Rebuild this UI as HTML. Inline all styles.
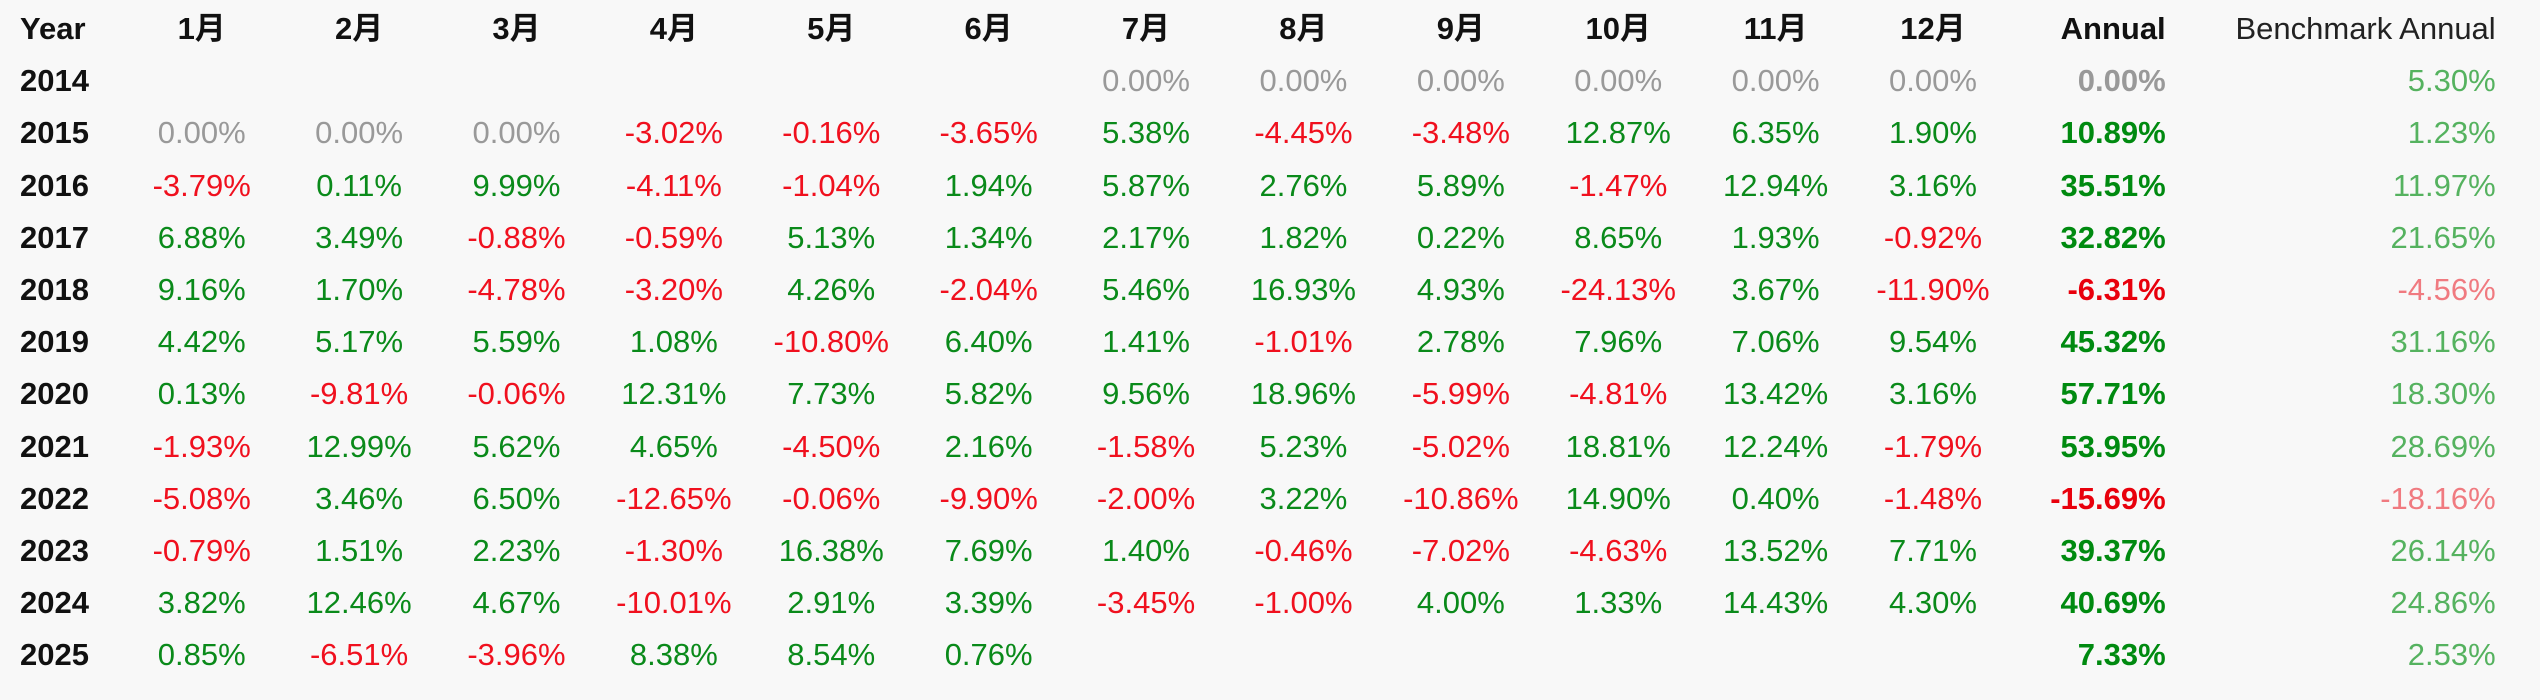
<!DOCTYPE html>
<html><head><meta charset="utf-8"><style>
html,body{margin:0;padding:0;background:#f8f8f8;width:2540px;height:700px;overflow:hidden}
table{position:absolute;left:20px;top:3px;border-collapse:collapse;table-layout:fixed;font-family:"Liberation Sans","Noto Sans CJK SC",sans-serif;font-size:31px}
td{height:52.2px;padding:0;text-align:center;white-space:nowrap;line-height:52px}
td:first-child{text-align:left;font-weight:bold;color:#111}
tr.h td{font-weight:bold;color:#111}
td.a{text-align:right;font-weight:bold}
td.b{text-align:right}
.g{color:#0a8a1a}.r{color:#f0101e}.z{color:#999}
td.a.g{color:#008a10}td.a.r{color:#e8000c}
td.b{color:#55b25f}td.b.n{color:#f07a80}
tr.h td.b{color:#222;font-weight:normal}
</style></head><body>
<table>
<colgroup><col style="width:103px"><col span="12" style="width:157.4px"><col style="width:154px"><col style="width:330px"></colgroup>
<tr class="h"><td>Year</td><td>1月</td><td>2月</td><td>3月</td><td>4月</td><td>5月</td><td>6月</td><td>7月</td><td>8月</td><td>9月</td><td>10月</td><td>11月</td><td>12月</td><td class="a">Annual</td><td class="b">Benchmark Annual</td></tr>
<tr><td>2014</td><td></td><td></td><td></td><td></td><td></td><td></td><td class="z">0.00%</td><td class="z">0.00%</td><td class="z">0.00%</td><td class="z">0.00%</td><td class="z">0.00%</td><td class="z">0.00%</td><td class="a z">0.00%</td><td class="b">5.30%</td></tr>
<tr><td>2015</td><td class="z">0.00%</td><td class="z">0.00%</td><td class="z">0.00%</td><td class="r">-3.02%</td><td class="r">-0.16%</td><td class="r">-3.65%</td><td class="g">5.38%</td><td class="r">-4.45%</td><td class="r">-3.48%</td><td class="g">12.87%</td><td class="g">6.35%</td><td class="g">1.90%</td><td class="a g">10.89%</td><td class="b">1.23%</td></tr>
<tr><td>2016</td><td class="r">-3.79%</td><td class="g">0.11%</td><td class="g">9.99%</td><td class="r">-4.11%</td><td class="r">-1.04%</td><td class="g">1.94%</td><td class="g">5.87%</td><td class="g">2.76%</td><td class="g">5.89%</td><td class="r">-1.47%</td><td class="g">12.94%</td><td class="g">3.16%</td><td class="a g">35.51%</td><td class="b">11.97%</td></tr>
<tr><td>2017</td><td class="g">6.88%</td><td class="g">3.49%</td><td class="r">-0.88%</td><td class="r">-0.59%</td><td class="g">5.13%</td><td class="g">1.34%</td><td class="g">2.17%</td><td class="g">1.82%</td><td class="g">0.22%</td><td class="g">8.65%</td><td class="g">1.93%</td><td class="r">-0.92%</td><td class="a g">32.82%</td><td class="b">21.65%</td></tr>
<tr><td>2018</td><td class="g">9.16%</td><td class="g">1.70%</td><td class="r">-4.78%</td><td class="r">-3.20%</td><td class="g">4.26%</td><td class="r">-2.04%</td><td class="g">5.46%</td><td class="g">16.93%</td><td class="g">4.93%</td><td class="r">-24.13%</td><td class="g">3.67%</td><td class="r">-11.90%</td><td class="a r">-6.31%</td><td class="b n">-4.56%</td></tr>
<tr><td>2019</td><td class="g">4.42%</td><td class="g">5.17%</td><td class="g">5.59%</td><td class="g">1.08%</td><td class="r">-10.80%</td><td class="g">6.40%</td><td class="g">1.41%</td><td class="r">-1.01%</td><td class="g">2.78%</td><td class="g">7.96%</td><td class="g">7.06%</td><td class="g">9.54%</td><td class="a g">45.32%</td><td class="b">31.16%</td></tr>
<tr><td>2020</td><td class="g">0.13%</td><td class="r">-9.81%</td><td class="r">-0.06%</td><td class="g">12.31%</td><td class="g">7.73%</td><td class="g">5.82%</td><td class="g">9.56%</td><td class="g">18.96%</td><td class="r">-5.99%</td><td class="r">-4.81%</td><td class="g">13.42%</td><td class="g">3.16%</td><td class="a g">57.71%</td><td class="b">18.30%</td></tr>
<tr><td>2021</td><td class="r">-1.93%</td><td class="g">12.99%</td><td class="g">5.62%</td><td class="g">4.65%</td><td class="r">-4.50%</td><td class="g">2.16%</td><td class="r">-1.58%</td><td class="g">5.23%</td><td class="r">-5.02%</td><td class="g">18.81%</td><td class="g">12.24%</td><td class="r">-1.79%</td><td class="a g">53.95%</td><td class="b">28.69%</td></tr>
<tr><td>2022</td><td class="r">-5.08%</td><td class="g">3.46%</td><td class="g">6.50%</td><td class="r">-12.65%</td><td class="r">-0.06%</td><td class="r">-9.90%</td><td class="r">-2.00%</td><td class="g">3.22%</td><td class="r">-10.86%</td><td class="g">14.90%</td><td class="g">0.40%</td><td class="r">-1.48%</td><td class="a r">-15.69%</td><td class="b n">-18.16%</td></tr>
<tr><td>2023</td><td class="r">-0.79%</td><td class="g">1.51%</td><td class="g">2.23%</td><td class="r">-1.30%</td><td class="g">16.38%</td><td class="g">7.69%</td><td class="g">1.40%</td><td class="r">-0.46%</td><td class="r">-7.02%</td><td class="r">-4.63%</td><td class="g">13.52%</td><td class="g">7.71%</td><td class="a g">39.37%</td><td class="b">26.14%</td></tr>
<tr><td>2024</td><td class="g">3.82%</td><td class="g">12.46%</td><td class="g">4.67%</td><td class="r">-10.01%</td><td class="g">2.91%</td><td class="g">3.39%</td><td class="r">-3.45%</td><td class="r">-1.00%</td><td class="g">4.00%</td><td class="g">1.33%</td><td class="g">14.43%</td><td class="g">4.30%</td><td class="a g">40.69%</td><td class="b">24.86%</td></tr>
<tr><td>2025</td><td class="g">0.85%</td><td class="r">-6.51%</td><td class="r">-3.96%</td><td class="g">8.38%</td><td class="g">8.54%</td><td class="g">0.76%</td><td></td><td></td><td></td><td></td><td></td><td></td><td class="a g">7.33%</td><td class="b">2.53%</td></tr>
</table>
</body></html>
